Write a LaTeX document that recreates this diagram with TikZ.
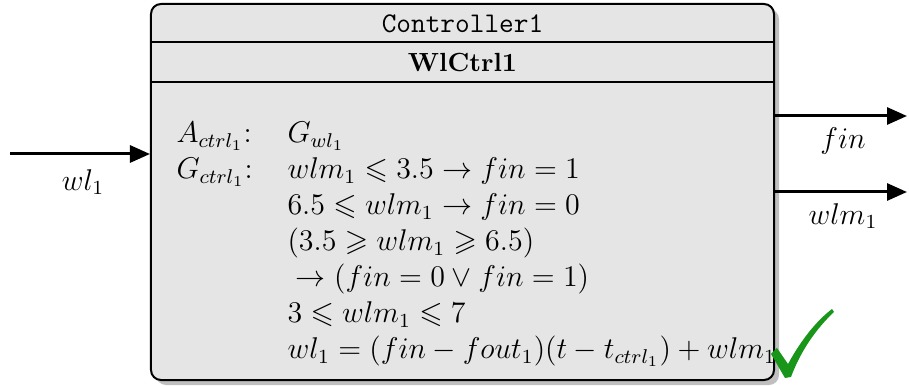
\documentclass[tikz,border=0pt]{standalone}
\usepackage{amssymb}
\usetikzlibrary{arrows.meta,shadows}
\definecolor{boxfill}{gray}{0.90}
\definecolor{okgreen}{RGB}{25,150,25}
\begin{document}
\begin{tikzpicture}[x=0.4pt,y=-0.4pt,
  block/.style={draw, line width=0.8pt, fill=boxfill, rounded corners=4pt,
    minimum width=249.2pt, minimum height=150.4pt, inner sep=0pt,
    drop shadow={shadow xshift=2pt, shadow yshift=-2pt, fill=black!25, opacity=1}},
  headrule/.style={line width=0.8pt},
  flow/.style={line width=1.2pt, -{Triangle[length=8pt,width=6.8pt]}},
  lbl/.style={inner sep=0pt, font=\fontsize{12}{14.4}\selectfont},
  comptitle/.style={inner sep=0pt, anchor=base, font=\fontsize{11.4}{13}\selectfont\ttfamily},
  compname/.style={inner sep=0pt, anchor=base, font=\fontsize{10.5}{12}\selectfont\bfseries}]
\useasboundingbox (0,0) rectangle (909,386);

% component block with its two header rows
\node[block] (ctrl) at (462.5,192) {};
\draw[headrule] (ctrl.west |- 0,42) -- (ctrl.east |- 0,42);
\draw[headrule] (ctrl.west |- 0,82) -- (ctrl.east |- 0,82);
\node[comptitle] (ctitle) at (462.5,33) {Controller1};
\node[compname] (cname) at (462.5,72) {WlCtrl1};

% assumption / guarantee contract
\node[lbl, anchor=base west] (contract) at (176,143) {%
  \begin{tabular}[t]{@{}p{44.4pt}@{}l@{}}
    $A_{ctrl_1}$: & $G_{wl_1}$\\
    $G_{ctrl_1}$: & $wlm_1 \leqslant 3.5 \rightarrow fin = 1$\\
     & $6.5 \leqslant wlm_1 \rightarrow fin = 0$\\
     & $(3.5 \geqslant wlm_1 \geqslant 6.5)$\\
     & ${}\rightarrow (fin = 0 \vee fin = 1)$\\
     & $3 \leqslant wlm_1 \leqslant 7$\\
     & $wl_1 = (fin - fout_1)(t - t_{ctrl_1}) + wlm_1$
  \end{tabular}};

% ports
\coordinate (inwl) at (10,154);
\coordinate (outfin) at (907,116);
\coordinate (outwlm) at (907,192);
\draw[flow] (inwl) -- (ctrl.west |- inwl);
\draw[flow] (ctrl.east |- outfin) -- (outfin);
\draw[flow] (ctrl.east |- outwlm) -- (outwlm);
\node[lbl] (lwl) at (83,182) {$wl_1$};
\node[lbl] (lfin) at (843,141) {$fin$};
\node[lbl] (lwlm) at (843,216) {$wlm_1$};

% verified mark
\fill[okgreen] (771,354) -- (777,348) -- (788,364)
  .. controls (800,342) and (815,322) .. (832,309)
  -- (834,312)
  .. controls (817,328) and (801,350) .. (791,377)
  -- (785,378) -- cycle;
\end{tikzpicture}
\end{document}
